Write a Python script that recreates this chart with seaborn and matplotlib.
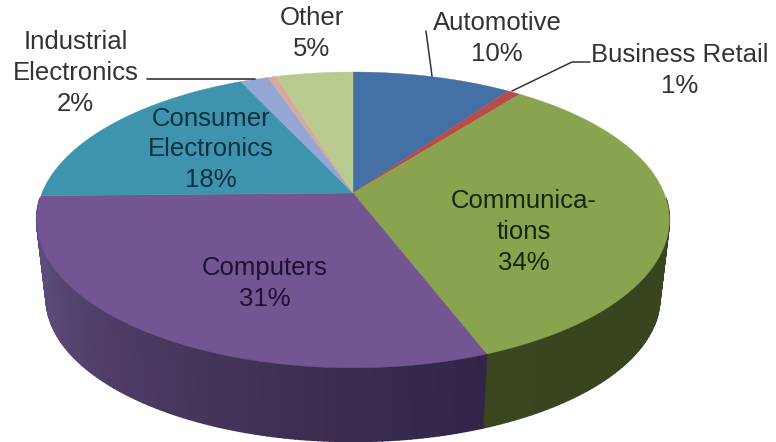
import numpy as np
import matplotlib.pyplot as plt
import seaborn as sns

# Share of each slice, clockwise from 12 o'clock
slice_names = ['Automotive', 'Business Retail', 'Communications', 'Computers',
               'Consumer Electronics', 'Industrial Electronics', 'Unlabelled', 'Other']
slice_values = [9.7, 0.8, 33.7, 30.5, 18.4, 1.7, 0.5, 4.7]
slice_colors = ['#4570A6', '#B94C4A', '#8AA34E', '#735591',
                '#3F94AD', '#93A6D4', '#D8A79F', '#B8CA90']
percent_labels = ['10%', '1%', '34%', '31%', '18%', '2%', '', '5%']

sns.set_theme(style='white')
plt.rcParams['font.family'] = ['Liberation Sans', 'DejaVu Sans']

# Perspective of the tilted disc, in pixels of the picture
apex_x, apex_y = 353, 193
rad_x, rad_y = 311, 143
tilt = 0.182
ell_y = 220
shrink = 0.97
base_y = 298


# Go from a clockwise pie angle to the top face of the disc
def top_rim(angle):
    u = np.sin(angle)
    v = -np.cos(angle)
    d = 1 - tilt * v
    return apex_x + rad_x * u / d, apex_y + rad_y * v / d


# The same angle on the lower edge of the wall
def bottom_rim(angle):
    x, y = top_rim(angle)
    return apex_x + shrink * (x - apex_x), base_y + shrink * (y - ell_y)


fig = plt.figure(figsize=(7.76, 4.42), dpi=100)
ax = fig.add_axes([0, 0, 1, 1])
ax.set_xlim(0, 776)
ax.set_ylim(442, 0)
ax.axis('off')

edges = np.radians(np.cumsum([0] + slice_values) * 3.6)

# Wall first, in thin strips so the shade can change along it
wall_shades = {
    2: sns.blend_palette(['#3A4720', '#38441E', '#3A4620'], 60),
    3: sns.blend_palette(['#33254A', '#3A2B4F', '#45345A', '#4F3D68', '#5A4878', '#5E4B7D'], 120),
}
wall_span = {2: (edges[2], edges[3]), 3: (edges[3], edges[4])}
for idx in [2, 3]:
    start, stop = wall_span[idx]
    start = max(start, np.radians(92))
    stop = min(stop, np.radians(268))
    shades = wall_shades[idx]
    cuts = np.linspace(start, stop, len(shades) + 1)
    for n, shade in enumerate(shades):
        a = np.linspace(cuts[n], cuts[n + 1], 4)
        tx, ty = top_rim(a)
        bx, by = bottom_rim(a)
        ax.fill(np.r_[tx, bx[::-1]], np.r_[ty, by[::-1]], color=shade, lw=1.2)

# Top face
for i, color in enumerate(slice_colors):
    a = np.linspace(edges[i], edges[i + 1], 80)
    rx, ry = top_rim(a)
    ax.fill(np.r_[apex_x, rx], np.r_[apex_y, ry], color=color, lw=0.3)

# Leader lines
ax.plot([147, 255], [79, 79], color='#333333', lw=1.2)
ax.plot([426, 432], [31, 76], color='#333333', lw=1.1)
ax.plot([512, 572, 590], [91, 62, 62], color='#333333', lw=1.1)

# Labels
font = 18.5
outside = '#333333'
ax.text(76, 42, 'Industrial', color=outside, fontsize=font, ha='center', va='center')
ax.text(76, 73, 'Electronics', color=outside, fontsize=font, ha='center', va='center')
ax.text(75, 104, percent_labels[5], color=outside, fontsize=font, ha='center', va='center')
ax.text(312, 18, slice_names[7], color=outside, fontsize=font, ha='center', va='center')
ax.text(312, 49, percent_labels[7], color=outside, fontsize=font, ha='center', va='center')
ax.text(497, 23, slice_names[0], color=outside, fontsize=font, ha='center', va='center')
ax.text(497, 54, percent_labels[0], color=outside, fontsize=font, ha='center', va='center')
ax.text(680, 55, slice_names[1], color=outside, fontsize=font, ha='center', va='center')
ax.text(680, 86, percent_labels[1], color=outside, fontsize=font, ha='center', va='center')
ax.text(524, 201, 'Communica-', color='#16260A', fontsize=font, ha='center', va='center')
ax.text(524, 232, 'tions', color='#16260A', fontsize=font, ha='center', va='center')
ax.text(524, 263, percent_labels[2], color='#16260A', fontsize=font, ha='center', va='center')
ax.text(265, 268, slice_names[3], color='#1E1035', fontsize=font, ha='center', va='center')
ax.text(265, 299, percent_labels[3], color='#1E1035', fontsize=font, ha='center', va='center')
ax.text(211, 119, 'Consumer', color='#0E3040', fontsize=font, ha='center', va='center')
ax.text(211, 149, 'Electronics', color='#0E3040', fontsize=font, ha='center', va='center')
ax.text(211, 180, percent_labels[4], color='#0E3040', fontsize=font, ha='center', va='center')

fig.savefig('out.png', dpi=100)
